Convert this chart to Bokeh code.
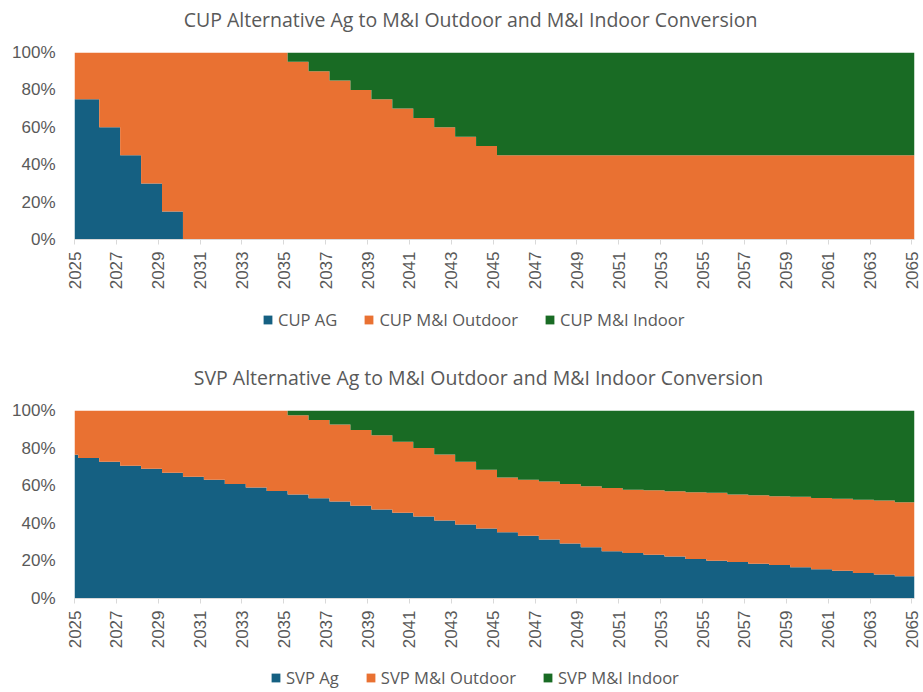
from bokeh.plotting import figure
from bokeh.models import (ColumnDataSource, Range1d, FixedTicker, Legend,
                          PrintfTickFormatter, Label)
from bokeh.layouts import column
from bokeh.embed import file_html
from bokeh.resources import INLINE

years = list(range(2025, 2066))

cup_ag = [75, 75, 60, 45, 30, 15] + [0] * 35
cup_indoor = [0] * 11 + [5, 10, 15, 20, 25, 30, 35, 40, 45, 50] + [55] * 20
cup_outdoor = [round(100 - a - i, 1) for a, i in zip(cup_ag, cup_indoor)]

svp_ag = [76.5, 74.7, 72.8, 70.6, 69.0, 66.9, 64.8, 63.1, 60.9, 59.1, 57.2,
          55.3, 53.3, 51.6, 49.4, 47.3, 45.6, 43.6, 41.5, 39.4, 37.3,
          35.2, 33.4, 31.4, 29.3, 27.2, 25.1, 24.2, 23.3, 22.4, 21.0,
          20.1, 19.4, 18.5, 17.8, 16.6, 15.5, 14.8, 13.6, 12.7, 11.8]
svp_indoor = [0] * 11 + [2.5, 5.0, 7.5, 10.4, 13.1, 16.6, 20.0, 23.4, 27.2, 31.5,
                         35.7, 36.9, 37.8, 39.1, 40.3, 41.2, 42.1, 42.4, 43.0, 43.5,
                         43.8, 44.7, 45.1, 45.6, 45.9, 46.5, 47.0, 47.5, 47.9, 48.8]
svp_outdoor = [round(100 - a - i, 1) for a, i in zip(svp_ag, svp_indoor)]

cup_labels = ["CUP AG", "CUP M&I Outdoor", "CUP M&I Indoor"]
svp_labels = ["SVP Ag", "SVP M&I Outdoor", "SVP M&I Indoor"]
cup_title = "CUP Alternative Ag to M&I Outdoor and M&I Indoor Conversion"
svp_title = "SVP Alternative Ag to M&I Outdoor and M&I Indoor Conversion"

tick_years = list(range(2025, 2066, 2))
pct_ticks = [0, 20, 40, 60, 80, 100]

COLORS = ["#156082", "#E97132", "#196B24"]
GRAY = "#595959"
STEP_OFFSET = 0.18
X_END = 2065.12
W = 923
LEFT, FRAME_W, RIGHT = 74, 840, 9


def step_source(series_dict):
    xs = [years[0]]
    for y in years[:-1]:
        xs += [y + STEP_OFFSET, y + STEP_OFFSET]
    xs.append(X_END)
    data = {"x": xs}
    for name, vals in series_dict.items():
        ys = [vals[0]]
        for i in range(len(vals) - 1):
            ys += [vals[i], vals[i + 1]]
        ys.append(vals[-1])
        data[name] = ys
    return ColumnDataSource(data)


def text_fig(h):
    # frame is aligned with the chart frames by the column layout
    f = figure(width=W, height=h, output_backend="svg", toolbar_location=None,
               x_range=Range1d(LEFT, LEFT + FRAME_W), y_range=Range1d(0, h),
               x_axis_location=None, y_axis_location=None, min_border=0)
    f.outline_line_color = None
    f.grid.grid_line_color = None
    return f


def add_title(f, text, x, y):
    f.add_layout(Label(x=x, y=y, text=text, text_align="center",
                       text_baseline="middle", text_font="Open Sans",
                       text_font_size="19.5px", text_color=GRAY))


def add_legend(f, labels, x, y):
    # swatch renderers kept outside the visible range
    rs = [f.varea(x=[0, 1], y1=[0, 0], y2=[1, 1], fill_color=c) for c in COLORS]
    legend = Legend(items=[(lab, [r]) for lab, r in zip(labels, rs)],
                    orientation="horizontal", location=(x - LEFT, y),
                    label_text_font="Open Sans", label_text_font_size="16.6px",
                    label_text_color=GRAY, glyph_width=11, glyph_height=11,
                    label_standoff=5, spacing=26, padding=0, margin=0,
                    border_line_color=None, background_fill_alpha=0)
    f.add_layout(legend, "center")


def make_chart(series, frame_h):
    names = ["ag", "out", "ind"]
    src = step_source(dict(zip(names, series)))
    p = figure(frame_width=FRAME_W, frame_height=frame_h, output_backend="svg",
               toolbar_location=None,
               x_range=Range1d(2025, X_END), y_range=Range1d(0, 100),
               min_border_left=LEFT, min_border_right=RIGHT, min_border_top=12,
               min_border_bottom=56)
    p.outline_line_color = None
    p.grid.grid_line_color = None

    p.varea_stack(stackers=names, x="x", source=src, color=COLORS)

    xa = p.xaxis[0]
    xa.ticker = FixedTicker(ticks=tick_years)
    xa.major_label_orientation = 1.5708
    xa.major_label_text_font = "Liberation Sans"
    xa.major_label_text_font_size = "17px"
    xa.major_label_text_color = GRAY
    xa.axis_line_color = "#D9D9D9"
    xa.major_tick_line_color = "#D9D9D9"
    xa.major_tick_in = 0
    xa.major_tick_out = 5
    xa.minor_tick_line_color = None
    xa.major_label_standoff = 7

    ya = p.yaxis[0]
    ya.ticker = FixedTicker(ticks=pct_ticks)
    ya.formatter = PrintfTickFormatter(format="%d%%")
    ya.major_label_text_font = "Liberation Sans"
    ya.major_label_text_font_size = "17px"
    ya.major_label_text_color = GRAY
    ya.axis_line_color = None
    ya.major_tick_line_color = None
    ya.minor_tick_line_color = None
    ya.major_label_standoff = 13
    return p


# header with first title (page y 0-40)
h1 = text_fig(40)
add_title(h1, cup_title, 470, 21)

p1 = make_chart([cup_ag, cup_outdoor, cup_indoor], 187)   # page 40-295

# middle: first legend + second title (page 295-398)
mid = text_fig(103)
add_legend(mid, cup_labels, 262, 67)
add_title(mid, svp_title, 478, 21)

p2 = make_chart([svp_ag, svp_outdoor, svp_indoor], 188)   # page 398-654

# footer: second legend (page 654-690)
foot = text_fig(36)
add_legend(foot, svp_labels, 270, 1)

layout = column(h1, p1, mid, p2, foot, spacing=0)
open("out.html", "w").write(file_html(layout, INLINE))
